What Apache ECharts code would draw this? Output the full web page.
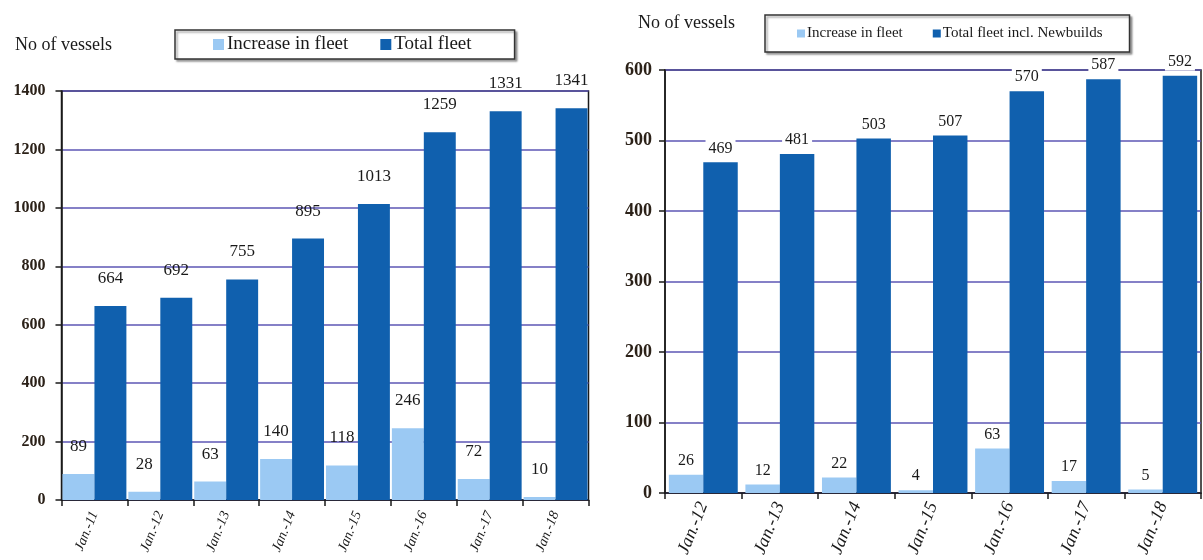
<!DOCTYPE html>
<html>
<head>
<meta charset="utf-8">
<script src="https://cdn.jsdelivr.net/npm/echarts@6/dist/echarts.min.js"></script>
<style>
  html, body { margin: 0; padding: 0; background: #fff; }
  #chart { width: 1203px; height: 560px; }
</style>
</head>
<body>
<div id="chart"></div>
<script>
// Fleet development (left) and fleet incl. newbuilds (right)
const leftCategories = ['Jan.-11', 'Jan.-12', 'Jan.-13', 'Jan.-14', 'Jan.-15', 'Jan.-16', 'Jan.-17', 'Jan.-18'];
const leftIncrease = [89, 28, 63, 140, 118, 246, 72, 10];
const leftTotal = [664, 692, 755, 895, 1013, 1259, 1331, 1341];

const rightCategories = ['Jan.-12', 'Jan.-13', 'Jan.-14', 'Jan.-15', 'Jan.-16', 'Jan.-17', 'Jan.-18'];
const rightIncrease = [26, 12, 22, 4, 63, 17, 5];
const rightTotal = [469, 481, 503, 507, 570, 587, 592];

const LIGHT = '#9bc9f3';
const DARK = '#1060ae';
const GRIDLINE = '#5c56b5';
const INK = '#1a1a1a';
const TICK_INK = '#2b2118';
const SERIF = '"Liberation Serif", "DejaVu Serif", serif';

const chart = echarts.init(document.getElementById('chart'), null, { renderer: 'canvas' });

function yAxis(gridIndex, max, interval, margin, fontSize) {
  return {
    type: 'value', gridIndex, min: 0, max, interval,
    axisLine: { show: true, lineStyle: { color: INK, width: 1.5 } },
    axisTick: { show: true, inside: false, length: 6, lineStyle: { color: INK, width: 1.5 } },
    axisLabel: {
      color: TICK_INK, fontFamily: SERIF, fontSize, fontWeight: 'bold', margin,
      formatter: (v) => String(v)
    },
    splitLine: { show: true, lineStyle: { color: GRIDLINE, width: 1.5 } }
  };
}

function xAxis(gridIndex, data, fontSize, rotate, margin) {
  return {
    type: 'category', gridIndex, data,
    axisLine: { show: true, lineStyle: { color: INK, width: 1.5 } },
    axisTick: { show: true, alignWithLabel: false, length: 6, lineStyle: { color: INK, width: 1.5 } },
    axisLabel: { color: INK, fontFamily: SERIF, fontStyle: 'italic', fontSize, rotate, margin, interval: 0 },
    splitLine: { show: false }
  };
}

function bars(name, data, xi, color, catGap, labelOpts) {
  return {
    type: 'bar', name, data, xAxisIndex: xi, yAxisIndex: xi,
    barGap: '0%', barCategoryGap: catGap,
    itemStyle: { color },
    label: Object.assign({
      show: true, position: 'top', color: INK, fontFamily: SERIF, fontSize: 17
    }, labelOpts),
    emphasis: { disabled: true },
    animation: false
  };
}

const option = {
  animation: false,
  title: [
    { text: 'No of vessels', left: 10, top: 31, textStyle: { fontFamily: SERIF, fontSize: 18, fontWeight: 'normal', color: INK } },
    { text: 'No of vessels', left: 633, top: 9, textStyle: { fontFamily: SERIF, fontSize: 18, fontWeight: 'normal', color: INK } }
  ],
  legend: [
    {
      data: ['Increase in fleet', 'Total fleet'],
      left: 175, top: 30, orient: 'horizontal',
      padding: [5, 43, 5, 38], itemGap: 32, itemWidth: 11, itemHeight: 11,
      icon: 'rect', selectedMode: false,
      borderColor: '#333', borderWidth: 1.5, backgroundColor: '#fff',
      shadowColor: 'rgba(0,0,0,0.35)', shadowOffsetX: 2, shadowOffsetY: 2, shadowBlur: 2,
      textStyle: { fontFamily: SERIF, fontSize: 19, color: INK, padding: [0, 0, 0, -2] }
    },
    {
      data: ['Increase in fleet', 'Total fleet incl. Newbuilds'],
      left: 765, top: 15, orient: 'horizontal',
      padding: [11, 27, 11, 32], itemGap: 30, itemWidth: 8, itemHeight: 8,
      icon: 'rect', selectedMode: false,
      borderColor: '#333', borderWidth: 1.5, backgroundColor: '#fff',
      shadowColor: 'rgba(0,0,0,0.35)', shadowOffsetX: 2, shadowOffsetY: 2, shadowBlur: 2,
      textStyle: { fontFamily: SERIF, fontSize: 15, color: INK, padding: [0, 0, 0, -3] }
    }
  ],
  grid: [
    { left: 61.5, top: 91, width: 527, height: 409, show: true, borderColor: INK, borderWidth: 1.5, backgroundColor: 'transparent' },
    { left: 665, top: 70, width: 536, height: 423, show: true, borderColor: INK, borderWidth: 1.5, backgroundColor: 'transparent' }
  ],
  xAxis: [
    xAxis(0, leftCategories, 14, 68, 12),
    xAxis(1, rightCategories, 18, 68, 10)
  ],
  yAxis: [
    yAxis(0, 1400, 200, 16, 16),
    yAxis(1, 600, 100, 13, 18)
  ],
  series: [
    bars('Increase in fleet', leftIncrease, 0, LIGHT, '3%', { distance: 19 }),
    bars('Total fleet', leftTotal, 0, DARK, '3%', { distance: 19 }),
    bars('Increase in fleet', rightIncrease, 1, LIGHT, '10%', { distance: 5, fontSize: 16, backgroundColor: '#fff', padding: [1, 3] }),
    bars('Total fleet incl. Newbuilds', rightTotal, 1, DARK, '10%', { distance: 5, fontSize: 16, backgroundColor: '#fff', padding: [1, 3] })
  ]
};

chart.setOption(option);
</script>
</body>
</html>
